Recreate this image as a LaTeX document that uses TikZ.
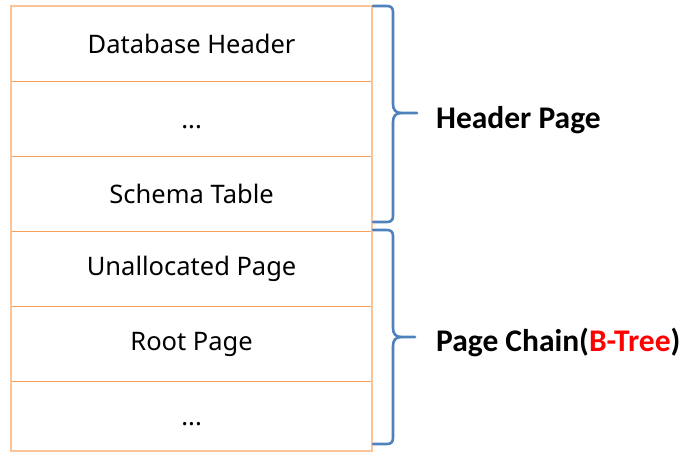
\documentclass[tikz,border=0pt]{standalone}
\usepackage{fontspec}
\setmainfont{Noto Sans}
\newfontfamily\labelfont{Carlito}
\definecolor{rowline}{RGB}{247,160,90}
\definecolor{outerline}{RGB}{252,196,150}
\definecolor{bracecol}{RGB}{79,129,189}
\definecolor{redtxt}{RGB}{255,0,0}
\begin{document}
\begin{tikzpicture}[x=1pt,y=-1pt,
  rowbox/.style={draw=rowline,line width=1.2pt,minimum width=360pt,minimum height=75pt,inner sep=0pt,font=\fontsize{25.5}{29}\selectfont,anchor=north west},
  bracestyle/.style={draw=bracecol,line width=2.6pt,line join=round,line cap=round},
  biglabel/.style={anchor=west,font=\labelfont\fontsize{31.5}{36}\selectfont\bfseries,inner sep=0pt}]
\useasboundingbox (0,0) rectangle (686,451);
\node[rowbox] (r1) at (11,6) {Database Header};
\node[rowbox] (r2) at (11,81) {\vphantom{H}...};
\node[rowbox] (r3) at (11,156) {Schema Table};
\node[rowbox] (r4) at (11,231) {Unallocated Page};
\node[rowbox] (r5) at (11,306) {Root Page};
\node[rowbox,minimum height=69pt] (r6) at (11,381) {\vphantom{H}...};
\draw[outerline,line width=1.5pt] (r1.north west) rectangle (r6.south east);
% brace 1
\coordinate (b1t) at (373,6);
\coordinate (b1m) at (417,113);
\coordinate (b1b) at (373,222);
\draw[bracestyle] (b1t) -- (387,6) .. controls (391,6) and (393,8) .. (393,12) -- (393,104)
  .. controls (393,110) and (396,113) .. (401,113) -- (b1m);
\draw[bracestyle] (401,113) .. controls (396,113) and (393,116) .. (393,122) -- (393,216)
  .. controls (393,220) and (391,222) .. (387,222) -- (b1b);
% brace 2
\coordinate (b2t) at (373,230);
\coordinate (b2m) at (415,337);
\coordinate (b2b) at (373,444);
\draw[bracestyle] (b2t) -- (387,230) .. controls (391,230) and (393,232) .. (393,236) -- (393,328)
  .. controls (393,334) and (396,337) .. (401,337) -- (b2m);
\draw[bracestyle] (401,337) .. controls (396,337) and (393,340) .. (393,346) -- (393,438)
  .. controls (393,442) and (391,444) .. (387,444) -- (b2b);
\node[biglabel] (l1) at (436,120) {Header Page};
\node[biglabel] (l2) at (436,342) {Page Chain(\textcolor{redtxt}{B-Tree})};
\end{tikzpicture}
\end{document}
